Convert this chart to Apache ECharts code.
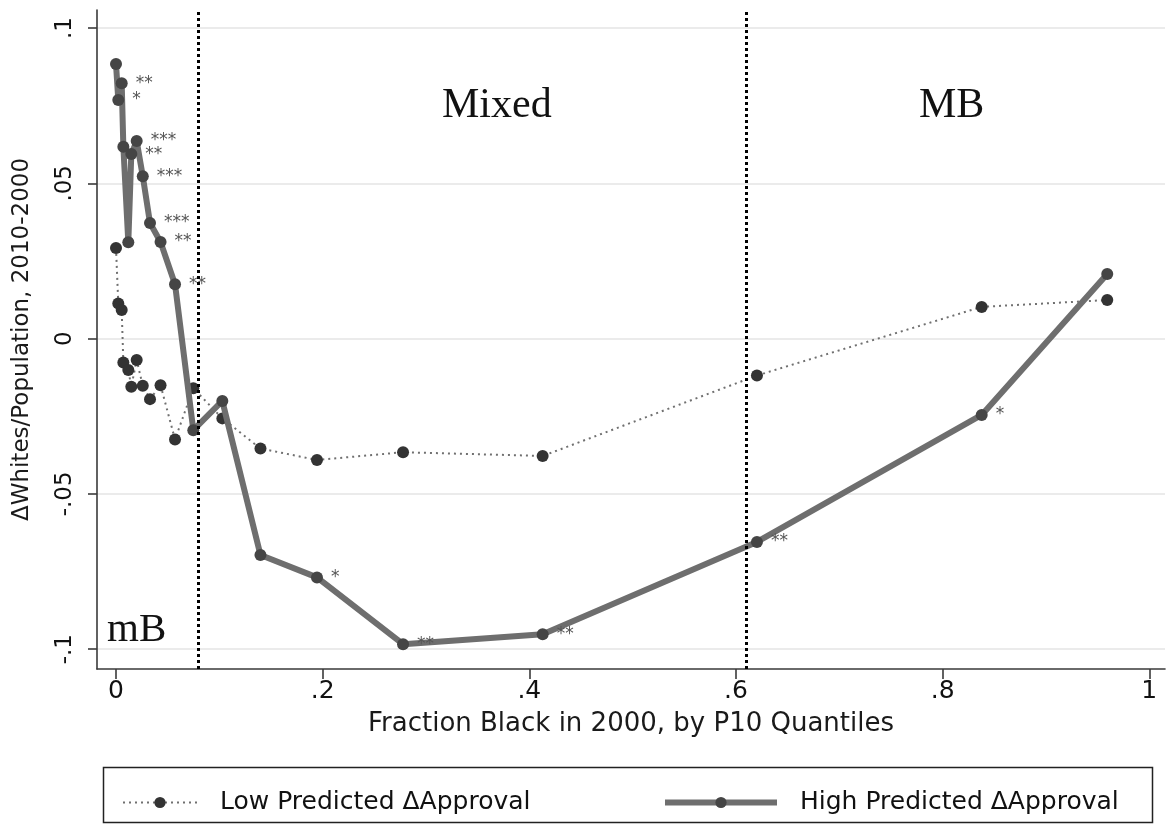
<!DOCTYPE html>
<html>
<head>
<meta charset="utf-8">
<script src="https://cdn.jsdelivr.net/npm/echarts@6/dist/echarts.min.js"></script>
<style>
  html, body { margin: 0; padding: 0; background: #ffffff; }
  #chart { width: 1169px; height: 824px; }
</style>
</head>
<body>
<div id="chart"></div>
<script>
// Mean fraction black within each P10 quantile bin (shared by both groups)
const fractionBlack = [0.000, 0.0022, 0.0055, 0.0071, 0.0119, 0.0148, 0.0200, 0.0259, 0.0329, 0.0431,
                       0.0571, 0.0748, 0.1029, 0.1398, 0.1945, 0.2778, 0.4129, 0.6203, 0.8378, 0.9593];

// Change in whites / population, 2010-2000
const lowApproval  = [0.0292, 0.0113, 0.0092, -0.0077, -0.0101, -0.0155, -0.0069, -0.0152, -0.0195, -0.0150,
                      -0.0325, -0.0160, -0.0257, -0.0354, -0.0391, -0.0366, -0.0378, -0.0119, 0.0102, 0.0124];
const highApproval = [0.0884, 0.0768, 0.0822, 0.0618, 0.0310, 0.0594, 0.0636, 0.0523, 0.0372, 0.0311,
                      0.0175, -0.0295, -0.0201, -0.0697, -0.0769, -0.0984, -0.0952, -0.0655, -0.0246, 0.0208];

// Significance of the high-vs-low difference in each bin
const highStars = ['', '*', '**', '', '', '**', '***', '***', '***', '**',
                   '**', '', '', '', '*', '**', '**', '**', '*', ''];

// Tipping-point boundaries separating the neighbourhood types
const cutoffs = [0.078, 0.6076];
const regionLabels = ['mB', 'Mixed', 'MB'];

const xTicks = [0, 0.2, 0.4, 0.6, 0.8, 1];
const yTicks = [-0.1, -0.05, 0, 0.05, 0.1];

const seriesNames = ['Low Predicted \u0394Approval', 'High Predicted \u0394Approval'];

function pairs(ys) { return fractionBlack.map((x, i) => [x, ys[i]]); }
function stataNum(v) {
  if (Math.abs(v) < 1e-9) return '0';
  return String(+v.toFixed(3)).replace('0.', '.');
}

const sans = 'DejaVu Sans';
const serif = 'Liberation Serif';

const chart = echarts.init(document.getElementById('chart'), null, { renderer: 'canvas' });

chart.setOption({
  animation: false,
  backgroundColor: '#ffffff',
  grid: { left: 97, right: 4, top: 10, bottom: 155, containLabel: false, outerBoundsMode: 'none' },
  xAxis: {
    type: 'value',
    min: -0.0184, max: 1.0152,
    name: 'Fraction Black in 2000, by P10 Quantiles',
    nameLocation: 'middle', nameGap: 42,
    nameTextStyle: { fontFamily: sans, fontSize: 26, color: '#1a1a1a' },
    axisLine: { show: true, onZero: false, lineStyle: { color: '#3a3a3a', width: 1.6 } },
    axisTick: { show: true, length: 10, customValues: xTicks, lineStyle: { color: '#3a3a3a', width: 1.6 } },
    axisLabel: { customValues: xTicks, formatter: stataNum, fontFamily: sans, fontSize: 25, color: '#111', margin: 10 },
    splitLine: { show: false }
  },
  yAxis: {
    type: 'value',
    min: -0.1064, max: 0.1058,
    name: '\u0394Whites/Population, 2010-2000',
    nameLocation: 'middle', nameGap: 63, nameRotate: 90,
    nameTextStyle: { fontFamily: sans, fontSize: 23, color: '#1a1a1a' },
    axisLine: { show: true, onZero: false, lineStyle: { color: '#3a3a3a', width: 1.6 } },
    axisTick: { show: true, length: 9, customValues: yTicks, lineStyle: { color: '#3a3a3a', width: 1.6 } },
    axisLabel: { customValues: yTicks, formatter: stataNum, rotate: 90, fontFamily: sans, fontSize: 23, color: '#111', margin: 20 },
    splitLine: { show: true, lineStyle: { color: '#e4e4e4', width: 1.5 } }
  },
  legend: [
    {
      data: [seriesNames[0]], left: 117, top: 785,
      itemWidth: 74, itemHeight: 14, itemGap: 0,
      textStyle: { fontFamily: sans, fontSize: 25, color: '#111', padding: [0, 0, 0, 18] }
    },
    {
      data: [seriesNames[1]], left: 657, top: 785,
      itemWidth: 112, itemHeight: 14, itemGap: 0,
      lineStyle: { width: 6, color: '#6e6e6e' },
      textStyle: { fontFamily: sans, fontSize: 25, color: '#111', padding: [0, 0, 0, 18] }
    }
  ],
  graphic: [
    { type: 'rect', shape: { x: 103.5, y: 767.5, width: 1049, height: 55 },
      style: { fill: 'none', stroke: '#222', lineWidth: 1.5 }, silent: true },
    { type: 'text', left: 107, top: 610, style: { text: regionLabels[0], font: '41px "' + serif + '"', fill: '#111' } },
    { type: 'text', left: 442, top: 85, style: { text: regionLabels[1], font: '42px "' + serif + '"', fill: '#111' } },
    { type: 'text', left: 919, top: 85, style: { text: regionLabels[2], font: '42px "' + serif + '"', fill: '#111' } }
  ],
  series: [
    {
      name: seriesNames[0],
      type: 'line',
      data: pairs(lowApproval),
      symbol: 'circle', symbolSize: 12,
      itemStyle: { color: '#333333' },
      lineStyle: { color: '#707070', width: 2, type: [2, 4] },
      z: 2
    },
    {
      name: seriesNames[1],
      type: 'line',
      data: pairs(highApproval),
      symbol: 'circle', symbolSize: 12,
      itemStyle: { color: '#454545' },
      lineStyle: { color: '#6e6e6e', width: 6 },
      label: {
        show: true, position: 'right', distance: 8,
        formatter: p => highStars[p.dataIndex],
        fontFamily: sans, fontSize: 17, color: '#555555'
      },
      markLine: {
        silent: true, symbol: 'none',
        label: { show: false },
        lineStyle: { color: '#000000', width: 3, type: [3, 3] },
        data: cutoffs.map(c => ({ xAxis: c }))
      },
      z: 3
    }
  ]
});
</script>
</body>
</html>
